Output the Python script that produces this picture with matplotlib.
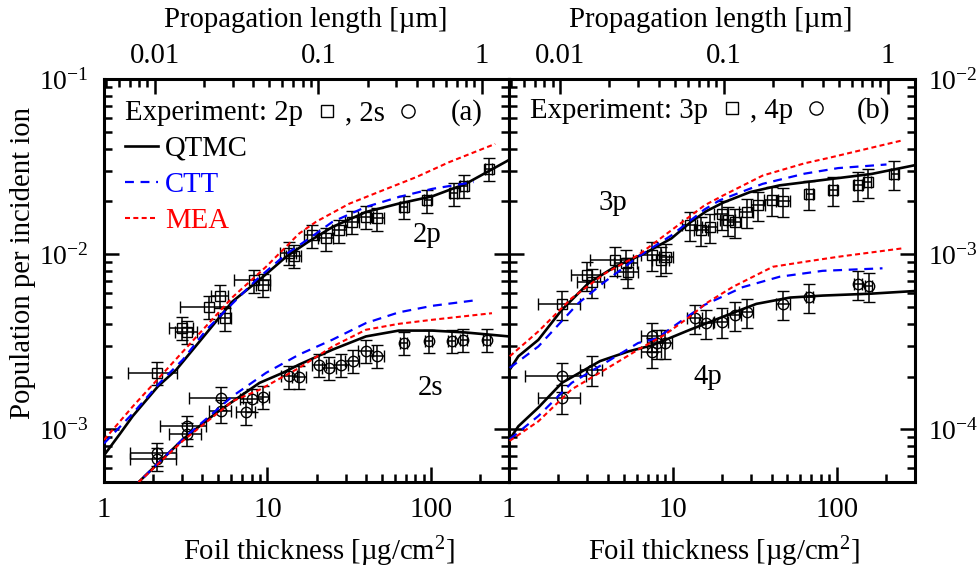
import numpy as np
import matplotlib
matplotlib.use('Agg')
import matplotlib.pyplot as plt
from matplotlib.ticker import FuncFormatter, NullFormatter, LogLocator

plt.rcParams['font.family'] = ['Liberation Serif', 'DejaVu Serif']
plt.rcParams['mathtext.fontset'] = 'custom'
plt.rcParams['mathtext.rm'] = 'Liberation Serif'
plt.rcParams['mathtext.it'] = 'Liberation Serif:italic'
plt.rcParams['axes.unicode_minus'] = False
plt.rcParams['font.size'] = 20.7

# foil thickness (ug/cm^2) -> propagation length (um), carbon ~2.05 g/cm^3
UM_PER_UG = 0.00488

# ---------------- panel (a): 2p / 2s ----------------
t_2p = [2.1, 3.0, 3.2, 4.4, 5.1, 5.5, 8.3, 9.4, 13.5, 14.5, 18.8, 22.7, 27.5,
        33, 40, 47, 68, 95, 138, 159, 226]
p_2p = [2.1e-3, 3.8e-3, 3.6e-3, 5.0e-3, 5.8e-3, 4.3e-3, 7.1e-3, 6.7e-3, 1.02e-2,
        9.8e-3, 1.28e-2, 1.23e-2, 1.37e-2, 1.53e-2, 1.63e-2, 1.6e-2, 1.86e-2,
        2.03e-2, 2.22e-2, 2.46e-2, 3.07e-2]
dt_2p = [0.7, 0.5, 0.5, 1.5, 0.6, 0.5, 2.1, 0.9, 1.5, 1.5, 2.0, 2.3, 2.8,
         3.3, 4.0, 4.7, 3.4, 4.8, 6.9, 8.0, 11]

t_2s = [2.1, 2.1, 3.2, 3.2, 5.2, 5.2, 7.4, 8.0, 9.4, 13.6, 15.6, 20.7, 23.9,
        28.2, 33.2, 40, 47, 68, 97, 134, 158, 220]
p_2s = [7.3e-4, 6.8e-4, 1.04e-3, 9.4e-4, 1.51e-3, 1.27e-3, 1.25e-3, 1.48e-3,
        1.53e-3, 2.01e-3, 2.0e-3, 2.34e-3, 2.24e-3, 2.34e-3, 2.47e-3, 2.81e-3,
        2.63e-3, 3.11e-3, 3.21e-3, 3.19e-3, 3.25e-3, 3.25e-3]
dt_2s = [0.65, 0.65, 1.0, 0.7, 1.9, 0.8, 1.0, 1.2, 0.8, 1.5, 1.5, 2.1, 2.4,
         2.8, 3.3, 4.0, 4.7, 3.4, 4.8, 6.7, 7.9, 11]

# theory curves, panel (a)
tq_2p = [1.0, 1.25, 1.5, 2.14, 2.77, 3.85, 6.1, 9.4, 13, 17.6, 25, 40, 63, 102, 163, 300]
qtmc_2p = [7.1e-4, 9.4e-4, 1.19e-3, 1.76e-3, 2.19e-3, 3.18e-3, 5.36e-3, 7.43e-3,
           9.66e-3, 1.17e-2, 1.43e-2, 1.74e-2, 1.94e-2, 2.14e-2, 2.52e-2, 3.45e-2]
tc_2p = [1.0, 1.51, 2.19, 3.04, 4.23, 6.14, 8.5, 13, 18, 25, 40, 63.5, 102, 183]
ctt_2p = [8.3e-4, 1.24e-3, 1.84e-3, 2.5e-3, 3.7e-3, 5.25e-3, 7.1e-3, 1.0e-2,
          1.23e-2, 1.53e-2, 1.86e-2, 2.12e-2, 2.36e-2, 2.58e-2]
tm_2p = [1.0, 1.51, 2.41, 3.85, 6.14, 9.8, 15.6, 19.8, 31.6, 50.5, 81, 129, 247]
mea_2p = [8.7e-4, 1.36e-3, 2.19e-3, 3.54e-3, 5.7e-3, 8.47e-3, 1.31e-2, 1.53e-2,
          1.94e-2, 2.31e-2, 2.75e-2, 3.35e-2, 4.26e-2]

tq_2s = [1.5, 1.62, 3.04, 4.86, 8.93, 12.4, 15.6, 25, 40, 63.5, 102, 163, 300]
qtmc_2s = [4.6e-4, 4.97e-4, 8.77e-4, 1.24e-3, 1.84e-3, 2.1e-3, 2.34e-3, 2.85e-3,
           3.39e-3, 3.66e-3, 3.66e-3, 3.57e-3, 3.39e-3]
tc_2s = [1.5, 1.62, 3.04, 6.14, 9.8, 15.6, 25, 40, 63.5, 102, 195]
ctt_2s = [4.6e-4, 4.97e-4, 8.8e-4, 1.55e-3, 2.1e-3, 2.67e-3, 3.25e-3, 4.04e-3,
          4.65e-3, 5.07e-3, 5.48e-3]
tm_2s = [1.5, 1.62, 3.04, 6.14, 8.93, 15.6, 25, 40, 63.5, 102, 236]
mea_2s = [4.6e-4, 4.97e-4, 8.6e-4, 1.45e-3, 1.68e-3, 2.24e-3, 2.97e-3, 3.7e-3,
          4.0e-3, 4.22e-3, 4.6e-3]

# ---------------- panel (b): 3p / 4p ----------------
t_3p = [2.1, 3.0, 3.2, 4.43, 5.2, 5.33, 7.41, 8.5, 9.13, 12.7, 14.9, 16.8, 19.8,
        21.7, 23.8, 28.2, 33.2, 40, 47, 68, 95, 135, 155, 224]
p_3p = [5.2e-4, 7.6e-4, 6.9e-4, 9.25e-4, 8.85e-4, 7.94e-4, 9.87e-4, 9.25e-4,
        9.66e-4, 1.46e-3, 1.37e-3, 1.43e-3, 1.7e-3, 1.56e-3, 1.53e-3, 1.74e-3,
        1.9e-3, 2.03e-3, 2.0e-3, 2.21e-3, 2.33e-3, 2.47e-3, 2.58e-3, 2.87e-3]
dt_3p = [0.6, 0.6, 0.6, 1.3, 0.8, 0.8, 1.0, 1.0, 0.9, 1.3, 1.5, 1.7, 2.0, 2.2,
         2.4, 2.8, 3.3, 4.0, 4.7, 3.4, 4.8, 6.8, 7.8, 11]

t_4p = [2.1, 2.1, 3.2, 7.41, 7.41, 7.95, 8.93, 13.6, 16.0, 19.8, 23.8, 28.2,
        47, 68, 135, 157]
p_4p = [2.01e-4, 1.51e-4, 2.19e-4, 3.39e-4, 2.78e-4, 3.11e-4, 3.11e-4, 4.31e-4,
        4.04e-4, 4.12e-4, 4.5e-4, 4.65e-4, 5.18e-4, 5.71e-4, 6.73e-4, 6.58e-4]
dt_4p = [0.85, 0.6, 0.5, 1.0, 1.0, 1.0, 0.9, 1.4, 1.6, 2.0, 2.4, 2.8, 4.7, 3.4,
         6.8, 7.9]

tq_3p = [1.01, 1.14, 1.51, 2.1, 3.05, 4.43, 6.73, 9.8, 12.8, 16, 20.3, 29.5,
         44.8, 82, 163, 300]
qtmc_3p = [2.19e-4, 2.61e-4, 3.24e-4, 4.81e-4, 6.82e-4, 8.47e-4, 1.01e-3, 1.23e-3,
           1.52e-3, 1.76e-3, 1.97e-3, 2.26e-3, 2.47e-3, 2.65e-3, 2.87e-3, 3.22e-3]
tc_3p = [1.01, 1.51, 2.65, 3.85, 6.14, 9.8, 15.6, 19.3, 35.3, 63.5, 102, 201]
ctt_3p = [2.24e-4, 2.97e-4, 5.25e-4, 6.97e-4, 9.66e-4, 1.28e-3, 1.8e-3, 2.03e-3,
          2.52e-3, 2.88e-3, 3.1e-3, 3.25e-3]
tm_3p = [1.01, 1.51, 2.41, 3.85, 6.14, 9.8, 15.6, 20.2, 35.3, 63.5, 90, 248]
mea_3p = [2.61e-4, 3.62e-4, 5.6e-4, 7.76e-4, 9.87e-4, 1.37e-3, 1.9e-3, 2.16e-3,
          2.81e-3, 3.3e-3, 3.55e-3, 4.45e-3]

tq_4p = [1.01, 1.14, 1.51, 2.1, 3.59, 5.33, 7.5, 12.7, 20.3, 32.3, 51.8, 82, 163, 293]
qtmc_4p = [8.77e-5, 1.04e-4, 1.33e-4, 1.84e-4, 2.45e-4, 2.78e-4, 3.02e-4, 3.7e-4,
           4.4e-4, 5.2e-4, 5.65e-4, 5.8e-4, 5.95e-4, 6.15e-4]
tc_4p = [1.01, 1.51, 2.41, 3.85, 6.14, 7.95, 12.7, 15.6, 26.7, 44.8, 82, 190]
ctt_4p = [8.77e-5, 1.19e-4, 1.84e-4, 2.39e-4, 3.11e-4, 3.3e-4, 4.5e-4, 5.13e-4,
          6.48e-4, 7.43e-4, 8.03e-4, 8.3e-4]
tm_4p = [1.01, 1.51, 2.41, 3.85, 6.14, 8.93, 12.7, 16, 23.2, 40.7, 63.5, 102, 253]
mea_4p = [8.59e-5, 1.11e-4, 1.69e-4, 2.19e-4, 2.85e-4, 3.47e-4, 4.4e-4, 5.25e-4,
          6.5e-4, 8.47e-4, 9.04e-4, 9.66e-4, 1.08e-3]

REL_ERR_A = 0.15   # relative population error, panel (a)
REL_ERR_B = 0.19   # relative population error, panel (b)

XLIM = (1, 300)
YLIM_A = (5e-4, 1e-1)
YLIM_B = (5e-5, 1e-2)

QTMC = dict(color='black', lw=1.9, zorder=4)
CTT = dict(color='blue', lw=1.6, ls=(0, (4, 3)), zorder=4)
MEA = dict(color='red', lw=1.5, ls=(0, (2.4, 1.6)), zorder=4)
EB = dict(mfc='none', mec='black', ecolor='black', mew=1.0, elinewidth=1.1,
          capsize=4, capthick=1.1, zorder=2, ls='none')

fig = plt.figure(figsize=(9.77, 5.69), dpi=100)
W, H = 977, 569
ax_a = fig.add_axes([104 / W, 1 - 482 / H, 405 / W, 403 / H])
ax_b = fig.add_axes([509 / W, 1 - 482 / H, 406 / W, 403 / H])

plain = FuncFormatter(lambda v, p: '{:g}'.format(v))


def style_panel(ax, ylim, label_side):
    ax.set_xscale('log')
    ax.set_yscale('log')
    ax.set_xlim(*XLIM)
    ax.set_ylim(*ylim)
    for s in ax.spines.values():
        s.set_linewidth(2.2)
    ax.xaxis.set_major_formatter(plain)
    ax.xaxis.set_minor_formatter(NullFormatter())
    ax.yaxis.set_minor_locator(LogLocator(base=10, subs=range(2, 10)))
    ax.yaxis.set_minor_formatter(NullFormatter())
    ax.tick_params(which='both', direction='in', top=False, bottom=True,
                   left=True, right=True, width=1.8)
    ax.tick_params(which='major', length=10.5)
    ax.tick_params(which='minor', length=5.5)
    ax.tick_params(axis='x', pad=11)
    if label_side == 'left':
        ax.tick_params(axis='y', labelleft=True, labelright=False, pad=11,
                       labelsize=20)
    else:
        ax.tick_params(axis='y', labelleft=False, labelright=True, pad=9,
                       labelsize=20)

    top = ax.twiny()
    top.set_xscale('log')
    top.set_xlim(XLIM[0] * UM_PER_UG, XLIM[1] * UM_PER_UG)
    top.xaxis.set_major_formatter(plain)
    top.xaxis.set_minor_formatter(NullFormatter())
    top.tick_params(which='both', direction='in', width=1.8, pad=7)
    top.tick_params(which='major', length=10.5)
    top.tick_params(which='minor', length=5.5)
    for s in top.spines.values():
        s.set_visible(False)


style_panel(ax_a, YLIM_A, 'left')
style_panel(ax_b, YLIM_B, 'right')

# panel (a) data and curves
ax_a.errorbar(t_2p, p_2p, xerr=dt_2p, yerr=np.array(p_2p) * REL_ERR_A,
              fmt='s', ms=7, **EB)
ax_a.errorbar(t_2s, p_2s, xerr=dt_2s, yerr=np.array(p_2s) * REL_ERR_A,
              fmt='o', ms=7.5, **EB)
ax_a.plot(tq_2p, qtmc_2p, **QTMC)
ax_a.plot(tc_2p, ctt_2p, **CTT)
ax_a.plot(tm_2p, mea_2p, **MEA)
ax_a.plot(tq_2s, qtmc_2s, **QTMC)
ax_a.plot(tc_2s, ctt_2s, **CTT)
ax_a.plot(tm_2s, mea_2s, **MEA)

# panel (b) data and curves
ax_b.errorbar(t_3p, p_3p, xerr=dt_3p, yerr=np.array(p_3p) * REL_ERR_B,
              fmt='s', ms=7, **EB)
ax_b.errorbar(t_4p, p_4p, xerr=dt_4p, yerr=np.array(p_4p) * REL_ERR_B,
              fmt='o', ms=7.5, **EB)
ax_b.plot(tq_3p, qtmc_3p, **QTMC)
ax_b.plot(tc_3p, ctt_3p, **CTT)
ax_b.plot(tm_3p, mea_3p, **MEA)
ax_b.plot(tq_4p, qtmc_4p, **QTMC)
ax_b.plot(tc_4p, ctt_4p, **CTT)
ax_b.plot(tm_4p, mea_4p, **MEA)

# state labels
ax_a.text(95, 1.28e-2, '2p', ha='center', va='center')
ax_a.text(100, 1.73e-3, '2s', ha='center', va='center')
ax_b.text(4.3, 1.97e-3, '3p', ha='center', va='center')
ax_b.text(16.4, 2.0e-4, '4p', ha='center', va='center')


# hand-made legends
def exp_legend(ax, s1, s2, tag, xs, xc, xsym2, xc2, xtag, yb, ym):
    tr = ax.transAxes
    ax.text(xs, yb, 'Experiment: ' + s1, transform=tr, va='baseline')
    ax.plot([xc], [ym], 's', ms=8.5, mfc='none', mec='black', mew=1.0,
            transform=tr, clip_on=False)
    ax.text(xsym2, yb, ', ' + s2, transform=tr, va='baseline')
    ax.plot([xc2], [ym], 'o', ms=9.5, mfc='none', mec='black', mew=1.0,
            transform=tr, clip_on=False)
    ax.text(xtag, yb, tag, transform=tr, va='baseline', ha='right')


exp_legend(ax_a, '2p', '2s', '(a)', 0.052, 0.551, 0.595, 0.751, 0.936, 0.898, 0.921)
exp_legend(ax_b, '3p', '4p', '(b)', 0.052, 0.549, 0.594, 0.756, 0.938, 0.903, 0.928)

tr = ax_a.transAxes
for style, name, yl, yb in [(QTMC, 'QTMC', 0.834, 0.809),
                            (CTT, 'CTT', 0.744, 0.720),
                            (MEA, 'MEA', 0.655, 0.630)]:
    ax_a.plot([0.052, 0.133], [yl, yl], transform=tr, clip_on=False, **style)
    ax_a.text(0.151, yb, name, color=style['color'], transform=tr, va='baseline')

# axis titles
fig.text(23 / W, 1 - 263 / H, 'Population per incident ion', rotation=90,
         ha='center', va='center')
for xc in (319, 724):
    fig.text(xc / W, 1 - 552 / H, r'Foil thickness [µg/cm$^{2}$]',
             ha='center', va='center')
for xc in (306, 711):
    fig.text(xc / W, 1 - 20 / H, 'Propagation length [µm]',
             ha='center', va='center')

fig.savefig('out.png', dpi=100)
